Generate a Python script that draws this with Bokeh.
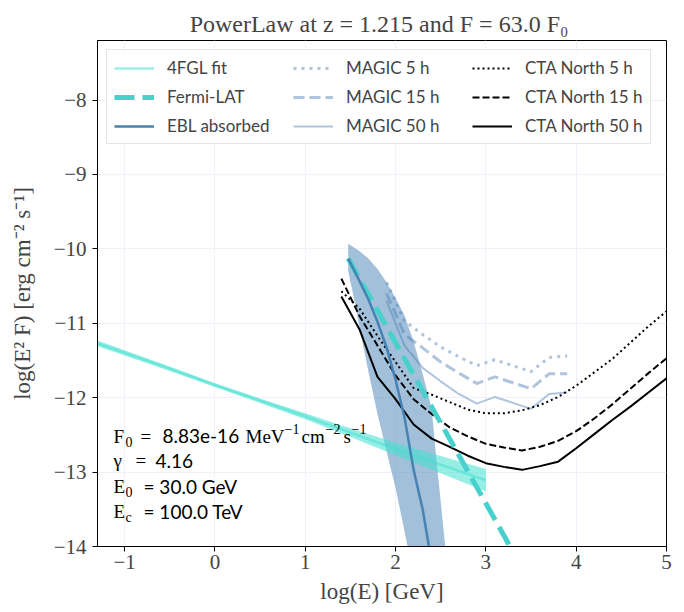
from bokeh.plotting import figure
from bokeh.models import Range1d, FixedTicker, Legend, LegendItem, Label
from bokeh.embed import file_html
from bokeh.resources import INLINE

# ---------------- data (log10 E [GeV], log10 E^2 F [erg cm^-2 s^-1]) ----------------
fgl_x = [-1.3, -0.5, 0.0, 0.5, 1.0, 1.5, 2.0, 2.5, 3.0]
fgl_y = [-11.27, -11.61, -11.83, -12.04, -12.25, -12.47, -12.69, -12.90, -13.11]
fgl_hi = [-11.23, -11.58, -11.805, -12.01, -12.21, -12.41, -12.605, -12.785, -12.96]
fgl_lo = [-11.31, -11.64, -11.855, -12.07, -12.29, -12.53, -12.775, -13.015, -13.26]

fermi_x = [1.476, 2.0, 2.5, 3.0, 3.3]
fermi_y = [-10.13, -11.26, -12.34, -13.42, -14.07]

ebl_x = [1.476, 1.6, 1.7, 1.8, 1.9, 2.0, 2.1, 2.2, 2.3, 2.37, 2.42]
ebl_y = [-10.13, -10.43, -10.68, -10.98, -11.32, -11.76, -12.27, -12.97, -13.5, -14.0, -14.35]

ebl_hi_x = [1.476, 1.6, 1.7, 1.8, 1.9, 2.0, 2.1, 2.2, 2.3, 2.4, 2.45, 2.5, 2.55, 2.6]
ebl_hi_y = [-9.93, -10.03, -10.13, -10.27, -10.45, -10.66, -10.90, -11.25, -11.68, -12.15, -12.8, -13.4, -14.0, -14.6]
ebl_lo_x = [1.476, 1.55, 1.6, 1.7, 1.8, 1.9, 2.0, 2.1, 2.2]
ebl_lo_y = [-10.30, -10.72, -11.05, -11.65, -12.22, -12.72, -13.21, -13.8, -14.4]

magic_x = [1.9, 2.1, 2.3, 2.5, 2.7, 2.9, 3.1, 3.3, 3.5, 3.7, 3.9]
magic_5h = [-10.45, -10.97, -11.15, -11.32, -11.45, -11.57, -11.49, -11.57, -11.65, -11.46, -11.44]
magic_15h = [-10.60, -11.15, -11.33, -11.52, -11.67, -11.81, -11.72, -11.80, -11.88, -11.68, -11.68]
magic_50h = [-10.70, -11.30, -11.60, -11.78, -11.95, -12.08, -11.99, -12.07, -12.15, -11.95, -11.93]

cta_x = [1.4, 1.6, 1.8, 2.0, 2.2, 2.4, 2.6, 2.8, 3.0, 3.2, 3.4, 3.6, 3.8, 4.0, 4.2, 4.4, 4.6, 4.8, 5.0]
cta_5h = [-10.57, -10.80, -11.17, -11.52, -11.87, -11.96, -12.06, -12.16, -12.21, -12.21, -12.17,
          -12.10, -11.99, -11.84, -11.66, -11.48, -11.26, -11.04, -10.84]
cta_15h = [-10.40, -10.90, -11.30, -11.70, -12.02, -12.22, -12.40, -12.52, -12.62, -12.67, -12.71,
           -12.66, -12.58, -12.45, -12.28, -12.09, -11.88, -11.67, -11.47]
cta_50h = [-10.64, -11.08, -11.72, -12.02, -12.36, -12.55, -12.66, -12.78, -12.88, -12.93, -12.97,
           -12.92, -12.86, -12.68, -12.49, -12.30, -12.12, -11.93, -11.74]

x_ticks = [-1, 0, 1, 2, 3, 4, 5]
y_ticks = [-14, -13, -12, -11, -10, -9, -8]

title_text = "PowerLaw at  z = 1.215 and F = 63.0 F\u2080"

# ---------------- figure ----------------
SERIF = "Liberation Serif"
SANS = "Lato"

p = figure(width=676, height=612, output_backend="svg", toolbar_location=None,
           x_range=Range1d(-1.3, 5), y_range=Range1d(-14, -7.2),
           min_border_left=97, min_border_right=10, min_border_top=40, min_border_bottom=66)

p.title.text = title_text
p.title.align = "center"
p.title.text_font = SERIF
p.title.text_font_size = "24px"
p.title.text_font_style = "normal"
p.title.standoff = 7

p.outline_line_color = "black"
p.outline_line_width = 1
p.background_fill_color = "white"

for ax in (p.xaxis[0], p.yaxis[0]):
    ax.major_label_text_font = SERIF
    ax.major_label_text_font_size = "21px"
    ax.axis_label_text_font = SERIF
    ax.axis_label_text_font_size = "23px"
    ax.axis_label_text_font_style = "normal"
    ax.minor_tick_line_color = None
    ax.major_tick_in = 0
    ax.major_tick_out = 5
    ax.axis_line_color = "black"

p.xaxis[0].major_label_standoff = 3
p.yaxis[0].major_label_standoff = 6
p.yaxis[0].axis_label_standoff = 16
p.xaxis[0].axis_label_standoff = 7

p.xaxis.ticker = FixedTicker(ticks=x_ticks)
p.yaxis.ticker = FixedTicker(ticks=y_ticks)
p.xaxis.major_label_overrides = {t: (("\u2212" + str(abs(t))) if t < 0 else str(t)) for t in x_ticks}
p.yaxis.major_label_overrides = {t: ("\u2212" + str(abs(t))) for t in y_ticks}
p.xaxis.axis_label = "log(E) [GeV]"
p.yaxis.axis_label = "log(E\u00b2 F) [erg cm\u207b\u00b2 s\u207b\u00b9]"

p.grid.grid_line_color = "#f1f1fb"
p.grid.grid_line_width = 1

TURQ = "#40E0D0"
MTURQ = "#48D1CC"
STEEL = "#4682B4"
LSTEEL = "#B0C4DE"

# MAGIC (under the EBL band)
r_m5 = p.line(magic_x, magic_5h, line_color=LSTEEL, line_width=3, line_dash="3 5")
r_m15 = p.line(magic_x, magic_15h, line_color=LSTEEL, line_width=3, line_dash="11 5")
r_m50 = p.line(magic_x, magic_50h, line_color=LSTEEL, line_width=2)

# EBL uncertainty band
band_x = ebl_hi_x + ebl_lo_x[::-1]
band_y = ebl_hi_y + ebl_lo_y[::-1]
p.patch(band_x, band_y, fill_color=STEEL, fill_alpha=0.5, line_color=None)

# 4FGL band and fit
p.patch(fgl_x + fgl_x[::-1], fgl_hi + fgl_lo[::-1], fill_color=TURQ, fill_alpha=0.55, line_color=None)
r_fgl = p.line(fgl_x, fgl_y, line_color=TURQ, line_alpha=0.5, line_width=2.5)

# CTA North
r_c5 = p.line(cta_x, cta_5h, line_color="black", line_width=2, line_dash="2 3")
r_c15 = p.line(cta_x, cta_15h, line_color="black", line_width=2, line_dash="7 3")
r_c50 = p.line(cta_x, cta_50h, line_color="black", line_width=2)

# Fermi-LAT and EBL absorbed
r_fermi = p.line(fermi_x, fermi_y, line_color=MTURQ, line_width=5, line_dash="20 8")
r_ebl = p.line(ebl_x, ebl_y, line_color=STEEL, line_width=2.5)

legend = Legend(items=[
    LegendItem(label="4FGL fit", renderers=[r_fgl]),
    LegendItem(label="Fermi-LAT", renderers=[r_fermi]),
    LegendItem(label="EBL absorbed", renderers=[r_ebl]),
    LegendItem(label="MAGIC 5 h", renderers=[r_m5]),
    LegendItem(label="MAGIC 15 h", renderers=[r_m15]),
    LegendItem(label="MAGIC 50 h", renderers=[r_m50]),
    LegendItem(label="CTA North 5 h", renderers=[r_c5]),
    LegendItem(label="CTA North 15 h", renderers=[r_c15]),
    LegendItem(label="CTA North 50 h", renderers=[r_c50]),
], location="top_left", ncols=3)
legend.label_text_font = SANS
legend.label_text_font_size = "17px"
legend.glyph_width = 40
legend.glyph_height = 20
legend.label_height = 20
legend.label_width = 118
legend.label_standoff = 13
legend.spacing = 8
legend.padding = 7
legend.margin = 9
legend.border_line_color = "#cccccc"
legend.border_line_width = 1
legend.background_fill_alpha = 0.85
p.add_layout(legend)

# ---------------- annotation ----------------
ax0 = -1.123
rows_y = [-12.52, -12.85, -13.19, -13.53]
MAIN = "19px"
SUB = "14px"
ann = [
    # (row, x offset px, y offset px, text, font, size)
    (0, 0, 0, "F", SERIF, MAIN),
    (0, 12, -6, "0", SERIF, SUB),
    (0, 27, 0, "=", SERIF, MAIN),
    (0, 49, 0, "8.83e-16", SANS, MAIN),
    (0, 132, 0, "MeV", SERIF, MAIN),
    (0, 171, 7, "\u22121", SERIF, SUB),
    (0, 188, 0, "cm", SERIF, MAIN),
    (0, 212, 7, "\u22122", SERIF, SUB),
    (0, 230, 0, "s", SERIF, MAIN),
    (0, 238, 7, "\u22121", SERIF, SUB),
    (1, 0, 0, "\u03b3", SERIF, MAIN),
    (1, 22, 0, "=", SERIF, MAIN),
    (1, 42, 0, "4.16", SANS, MAIN),
    (2, 0, 0, "E", SERIF, MAIN),
    (2, 12, -6, "0", SERIF, SUB),
    (2, 30, 0, "= 30.0 GeV", SANS, MAIN),
    (3, 0, 0, "E", SERIF, MAIN),
    (3, 12, -6, "c", SERIF, SUB),
    (3, 30, 0, "= 100.0 TeV", SANS, MAIN),
]
for row, xo, yo, txt, fnt, size in ann:
    p.add_layout(Label(x=ax0, y=rows_y[row], x_offset=xo, y_offset=yo, text=txt, text_font=fnt,
                       text_font_size=size, text_baseline="middle", text_color="black"))

open("out.html", "w").write(file_html(p, INLINE))
